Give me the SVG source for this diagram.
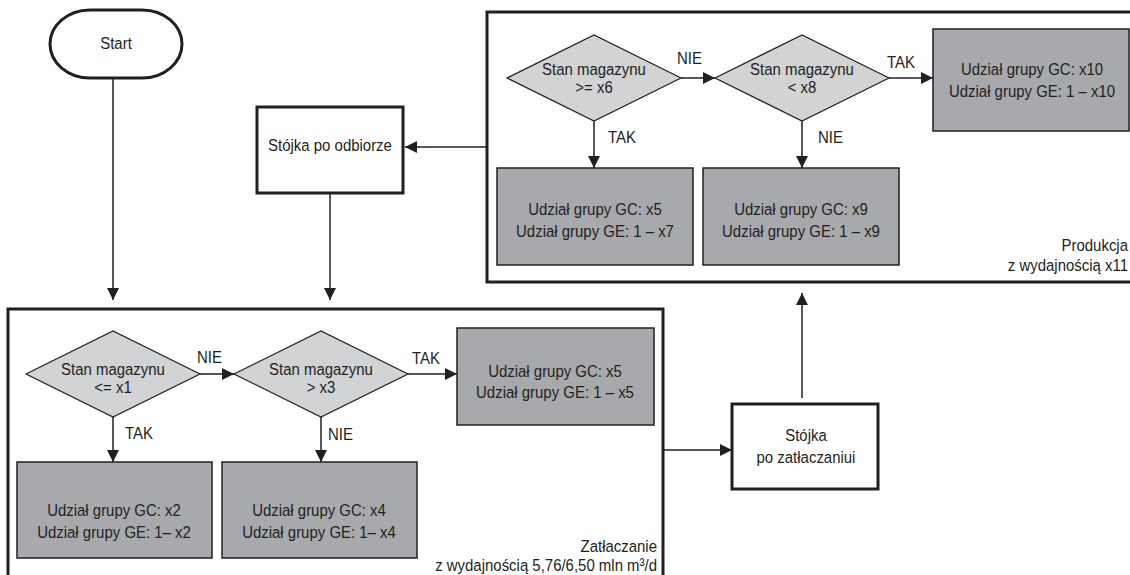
<svg xmlns="http://www.w3.org/2000/svg" width="1130" height="575" viewBox="0 0 1130 575">
<defs>
<marker id="ah" markerUnits="userSpaceOnUse" markerWidth="13" markerHeight="13" refX="12" refY="6" orient="auto">
<path d="M0,0 L12,6 L0,12 z" fill="#231f20"/>
</marker>
</defs>
<style>
.t{font-family:"Liberation Sans Narrow","Liberation Sans",Arial,sans-serif;font-size:17px;fill:#231f20;text-anchor:middle}
.l{text-anchor:start}
.e{text-anchor:end}
.frame{fill:none;stroke:#231f20;stroke-width:3}
.wbox{fill:#fff;stroke:#231f20;stroke-width:3}
.gbox{fill:#a7a9ac;stroke:#231f20;stroke-width:1.5}
.dia{fill:#d1d3d4;stroke:#231f20;stroke-width:1.2}
.c{fill:none;stroke:#231f20;stroke-width:1.5;marker-end:url(#ah)}
</style>
<rect width="1130" height="575" fill="#fff"/>

<g id="produkcja">
<rect class="frame" x="487" y="12" width="660" height="270"/>
<text class="t e" transform="translate(1128,251) scale(.88,1)">Produkcja<tspan x="0" dy="20">z wydajnością x11</tspan></text>
</g>
<g id="zatlaczanie">
<rect class="frame" x="8" y="309" width="655" height="285"/>
<text class="t e" transform="translate(657,552) scale(.88,1)">Zatłaczanie<tspan x="0" dy="19">z wydajnością 5,76/6,50 mln m³/d</tspan></text>
</g>

<g id="start">
<rect class="wbox" x="50" y="10" width="132" height="68" rx="40" ry="34"/>
<text class="t" transform="translate(116,49) scale(.88,1)">Start</text>
</g>
<g id="stojka-odbiorze">
<rect class="wbox" x="257" y="107" width="146" height="86"/>
<text class="t" transform="translate(330,151) scale(.88,1)">Stójka po odbiorze</text>
</g>
<g id="stojka-zatlaczaniu">
<rect class="wbox" x="732" y="404" width="146" height="85"/>
<text class="t" transform="translate(806,441) scale(.88,1)">Stójka<tspan x="0" dy="22">po zatłaczaniui</tspan></text>
</g>

<g id="d1">
<polygon class="dia" points="507,78 594,35 681,78 594,121"/>
<text class="t" transform="translate(594,75) scale(.88,1)">Stan magazynu<tspan x="0" dy="18">&gt;= x6</tspan></text>
</g>
<g id="d2">
<polygon class="dia" points="715,78 802,35 889,78 802,121"/>
<text class="t" transform="translate(802,75) scale(.88,1)">Stan magazynu<tspan x="0" dy="18">&lt; x8</tspan></text>
</g>
<g id="b10">
<rect class="gbox" x="933" y="29" width="196" height="102"/>
<text class="t" transform="translate(1032,75) scale(.88,1)">Udział grupy GC: x10<tspan x="0" dy="22">Udział grupy GE: 1 – x10</tspan></text>
</g>
<g id="b5-7">
<rect class="gbox" x="497" y="168" width="196" height="97"/>
<text class="t" transform="translate(595,215) scale(.88,1)">Udział grupy GC: x5<tspan x="0" dy="22">Udział grupy GE: 1 – x7</tspan></text>
</g>
<g id="b9">
<rect class="gbox" x="703" y="168" width="196" height="97"/>
<text class="t" transform="translate(801,215) scale(.88,1)">Udział grupy GC: x9<tspan x="0" dy="22">Udział grupy GE: 1 – x9</tspan></text>
</g>

<g id="da">
<polygon class="dia" points="26,374 113,331 200,374 113,417"/>
<text class="t" transform="translate(113,375) scale(.88,1)">Stan magazynu<tspan x="0" dy="18">&lt;= x1</tspan></text>
</g>
<g id="db">
<polygon class="dia" points="234,374 321,331 408,374 321,417"/>
<text class="t" transform="translate(321,375) scale(.88,1)">Stan magazynu<tspan x="0" dy="18">&gt; x3</tspan></text>
</g>
<g id="b5-5">
<rect class="gbox" x="457" y="328" width="197" height="97"/>
<text class="t" transform="translate(555,377) scale(.88,1)">Udział grupy GC: x5<tspan x="0" dy="21">Udział grupy GE: 1 – x5</tspan></text>
</g>
<g id="b2">
<rect class="gbox" x="17" y="462" width="195" height="96"/>
<text class="t" transform="translate(114,516) scale(.88,1)">Udział grupy GC: x2<tspan x="0" dy="22">Udział grupy GE: 1– x2</tspan></text>
</g>
<g id="b4">
<rect class="gbox" x="222" y="462" width="195" height="96"/>
<text class="t" transform="translate(319,516) scale(.88,1)">Udział grupy GC: x4<tspan x="0" dy="22">Udział grupy GE: 1– x4</tspan></text>
</g>

<g id="connectors">
<path class="c" d="M113,78 V300"/>
<path class="c" d="M330,194 V300"/>
<path class="c" d="M487,147 H405"/>
<path class="c" d="M681,78 H715"/>
<path class="c" d="M889,78 H933"/>
<path class="c" d="M594,121 V168"/>
<path class="c" d="M802,121 V168"/>
<path class="c" d="M200,374 H234"/>
<path class="c" d="M408,374 H457"/>
<path class="c" d="M113,417 V462"/>
<path class="c" d="M321,417 V462"/>
<path class="c" d="M663,450 H732"/>
<path class="c" d="M802,398 V293"/>
<text class="t l" transform="translate(677,64) scale(.88,1)">NIE</text>
<text class="t l" transform="translate(887,68) scale(.88,1)">TAK</text>
<text class="t l" transform="translate(608,143) scale(.88,1)">TAK</text>
<text class="t l" transform="translate(818,143) scale(.88,1)">NIE</text>
<text class="t l" transform="translate(197,363) scale(.88,1)">NIE</text>
<text class="t l" transform="translate(412,364) scale(.88,1)">TAK</text>
<text class="t l" transform="translate(125,439) scale(.88,1)">TAK</text>
<text class="t l" transform="translate(328,440) scale(.88,1)">NIE</text>
</g>
</svg>
